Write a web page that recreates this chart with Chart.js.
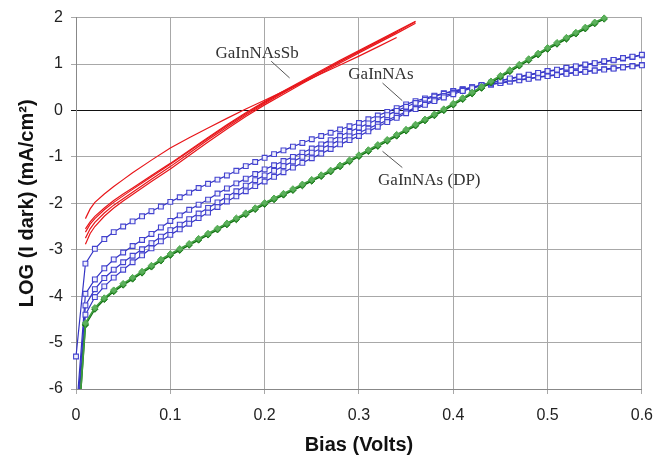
<!DOCTYPE html>
<html>
<head>
<meta charset="utf-8">
<script src="https://cdn.jsdelivr.net/npm/chart.js@4"></script>
<style>
  html, body { margin: 0; padding: 0; background: #fff; }
  #wrap { width: 665px; height: 458px; }
</style>
</head>
<body>
<div id="wrap"><canvas id="chart"></canvas></div>
<script>
// bias points (V) for the marked curves
const bias = [0,0.01,0.02,0.03,0.04,0.05,0.06,0.07,0.08,0.09,0.10,0.11,0.12,0.13,0.14,0.15,0.16,0.17,0.18,0.19,0.20,
  0.21,0.22,0.23,0.24,0.25,0.26,0.27,0.28,0.29,0.30,0.31,0.32,0.33,0.34,0.35,0.36,0.37,0.38,0.39,0.40,
  0.41,0.42,0.43,0.44,0.45,0.46,0.47,0.48,0.49,0.50,0.51,0.52,0.53,0.54,0.55,0.56,0.57,0.58,0.59,0.60];

// GaInNAs (4 devices)
const gaInNAs1 = [-5.3,-3.3,-2.98,-2.77,-2.62,-2.5,-2.39,-2.28,-2.17,-2.07,-1.97,-1.87,-1.77,-1.67,-1.58,-1.49,-1.4,-1.3,-1.2,-1.11,-1.02,
  -0.94,-0.86,-0.78,-0.7,-0.62,-0.55,-0.48,-0.41,-0.34,-0.27,-0.19,-0.11,-0.03,0.05,0.13,0.2,0.26,0.32,0.37,0.42,
  0.46,0.5,0.53,0.56,0.6,0.63,0.66,0.69,0.72,0.75,0.77,0.8,0.82,0.84,0.86,0.89,0.91,0.93,0.96,0.98];
const gaInNAs2 = [-6.6,-3.95,-3.64,-3.4,-3.21,-3.06,-2.92,-2.79,-2.66,-2.52,-2.38,-2.26,-2.14,-2.03,-1.92,-1.79,-1.68,-1.57,-1.47,-1.37,-1.27,
  -1.18,-1.09,-1.0,-0.91,-0.82,-0.73,-0.64,-0.55,-0.46,-0.37,-0.28,-0.19,-0.1,-0.01,0.08,0.16,0.23,0.3,0.36,0.41,
  0.45,0.49,0.53,0.56,0.59,0.62,0.65,0.68,0.71,0.74,0.76,0.79,0.81,0.83,0.86,0.88,0.9,0.93,0.95,0.97];
const gaInNAs3 = [-6.8,-4.2,-3.85,-3.61,-3.43,-3.27,-3.13,-2.99,-2.86,-2.72,-2.58,-2.46,-2.34,-2.22,-2.1,-1.98,-1.86,-1.74,-1.62,-1.5,-1.4,
  -1.3,-1.2,-1.1,-1.0,-0.91,-0.82,-0.73,-0.64,-0.56,-0.48,-0.39,-0.3,-0.21,-0.12,-0.03,0.06,0.15,0.23,0.31,0.38,
  0.44,0.5,0.55,0.6,0.64,0.68,0.72,0.76,0.8,0.84,0.87,0.91,0.94,0.98,1.01,1.05,1.08,1.12,1.15,1.19];
const gaInNAs4 = [-7.0,-4.4,-4.02,-3.79,-3.6,-3.43,-3.27,-3.12,-2.97,-2.82,-2.68,-2.56,-2.44,-2.32,-2.2,-2.08,-1.96,-1.85,-1.74,-1.63,-1.53,
  -1.43,-1.33,-1.23,-1.13,-1.03,-0.93,-0.83,-0.73,-0.64,-0.55,-0.45,-0.35,-0.25,-0.16,-0.06,0.03,0.12,0.2,0.28,0.35,
  0.42,0.48,0.54,0.59,0.64,0.69,0.73,0.77,0.81,0.85,0.88,0.92,0.95,0.99,1.02,1.06,1.09,1.13,1.16,1.2];

// GaInNAs (DP), 0 to 0.56 V
const gaInNAsDP1 = [-7.5,-4.62,-4.28,-4.07,-3.9,-3.76,-3.63,-3.5,-3.37,-3.24,-3.12,-3.01,-2.9,-2.79,-2.68,-2.57,-2.46,-2.35,-2.24,-2.13,-2.02,
  -1.92,-1.82,-1.72,-1.62,-1.52,-1.42,-1.32,-1.21,-1.1,-0.99,-0.88,-0.77,-0.66,-0.55,-0.44,-0.33,-0.22,-0.11,0.0,0.12,
  0.24,0.36,0.48,0.6,0.72,0.84,0.96,1.08,1.2,1.32,1.43,1.54,1.65,1.76,1.87,1.97];
const gaInNAsDP2 = [-7.5,-4.58,-4.25,-4.04,-3.87,-3.73,-3.6,-3.47,-3.34,-3.21,-3.09,-2.98,-2.87,-2.76,-2.65,-2.54,-2.43,-2.32,-2.21,-2.1,-1.99,
  -1.89,-1.79,-1.69,-1.59,-1.49,-1.39,-1.29,-1.18,-1.07,-0.96,-0.85,-0.74,-0.63,-0.52,-0.41,-0.3,-0.19,-0.08,0.03,0.15,
  0.27,0.39,0.51,0.63,0.75,0.87,0.99,1.11,1.23,1.35,1.46,1.57,1.68,1.79,1.9,1.99];

// GaInNAsSb (5 devices, no markers)
const biasSb = [0.01,0.015,0.02,0.03,0.04,0.05,0.06,0.08,0.10,0.12,0.14,0.16,0.18,0.20,0.22,0.24,0.26,0.28,0.30,0.32,0.34,0.36];
const gaInNAsSb1 = [-2.33,-2.12,-1.98,-1.8,-1.64,-1.49,-1.34,-1.07,-0.81,-0.59,-0.38,-0.17,0.03,0.22,0.41,0.6,0.79,0.98,1.17,1.37,1.57];
const gaInNAsSb2 = [-2.88,-2.65,-2.5,-2.28,-2.1,-1.95,-1.81,-1.53,-1.26,-0.97,-0.68,-0.4,-0.13,0.12,0.35,0.58,0.8,1.02,1.24,1.45,1.66,1.88];
const gaInNAsSb3 = [-2.75,-2.55,-2.41,-2.21,-2.04,-1.9,-1.76,-1.48,-1.21,-0.92,-0.63,-0.36,-0.1,0.15,0.38,0.61,0.83,1.05,1.27,1.48,1.69,1.91];
const gaInNAsSb4 = [-2.62,-2.45,-2.33,-2.14,-1.98,-1.84,-1.7,-1.43,-1.16,-0.88,-0.6,-0.33,-0.07,0.17,0.4,0.62,0.84,1.06,1.27,1.48,1.69];
const gaInNAsSb5 = [-2.55,-2.4,-2.28,-2.1,-1.94,-1.8,-1.67,-1.4,-1.14,-0.86,-0.58,-0.31,-0.05,0.19,0.42,0.64,0.86,1.08,1.29,1.5,1.71,1.92];

const yTicks = [-6,-5,-4,-3,-2,-1,0,1,2];
const xTicks = [0,0.1,0.2,0.3,0.4,0.5,0.6];

// curve labels with leader lines (data units)
const notes = [
  { text: 'GaInNAsSb', at: [0.192, 1.23], from: [0.207, 1.06], to: [0.2265, 0.70] },
  { text: 'GaInNAs', at: [0.3233, 0.78], from: [0.325, 0.59], to: [0.346, 0.21] },
  { text: 'GaInNAs (DP)', at: [0.3746, -1.52], from: [0.325, -0.88], to: [0.346, -1.23] }
];

function pts(xs, ys) {
  return ys.map((y, i) => ({ x: xs[i], y: y }));
}

const clipBox = { left: 6, right: 6, top: 6, bottom: 0 };

function redLine(ys) {
  return { data: pts(biasSb, ys), borderColor: '#e8161a', borderWidth: 1.2, pointRadius: 0, clip: clipBox };
}
function blueLine(ys) {
  return {
    data: pts(bias, ys), borderColor: '#3434c4', borderWidth: 1.2,
    pointStyle: 'rect', pointRadius: 3.4, pointBorderWidth: 1.1,
    pointBorderColor: '#4444d0', pointBackgroundColor: '#f0f0fc', clip: clipBox
  };
}
function greenLine(ys, dark) {
  return {
    data: pts(bias, ys), borderColor: dark ? '#0f6e0f' : '#3f9c3f', borderWidth: 1.6,
    pointStyle: 'rectRot', pointRadius: 3.2, pointBorderWidth: 1,
    pointBorderColor: dark ? '#1f7f1f' : '#4faa4f', pointBackgroundColor: dark ? '#127212' : '#5cb05c', clip: clipBox
  };
}

const annotate = {
  id: 'annotate',
  afterDatasetsDraw(chart) {
    const { ctx, scales: { x, y } } = chart;
    ctx.save();
    ctx.font = '17px "Liberation Serif", "Times New Roman", serif';
    ctx.fillStyle = '#333';
    ctx.textAlign = 'center';
    ctx.textBaseline = 'middle';
    ctx.strokeStyle = '#555';
    ctx.lineWidth = 1;
    notes.forEach(n => {
      ctx.fillText(n.text, x.getPixelForValue(n.at[0]), y.getPixelForValue(n.at[1]));
      ctx.beginPath();
      ctx.moveTo(x.getPixelForValue(n.from[0]), y.getPixelForValue(n.from[1]));
      ctx.lineTo(x.getPixelForValue(n.to[0]), y.getPixelForValue(n.to[1]));
      ctx.stroke();
    });
    ctx.restore();
  }
};

new Chart(document.getElementById('chart'), {
  type: 'line',
  data: {
    datasets: [
      redLine(gaInNAsSb1), redLine(gaInNAsSb2), redLine(gaInNAsSb3), redLine(gaInNAsSb4), redLine(gaInNAsSb5),
      greenLine(gaInNAsDP2, false), greenLine(gaInNAsDP1, true),
      blueLine(gaInNAs4), blueLine(gaInNAs3), blueLine(gaInNAs2), blueLine(gaInNAs1)
    ]
  },
  options: {
    responsive: true,
    maintainAspectRatio: false,
    animation: false,
    layout: { padding: { top: 16, right: 22, left: 0, bottom: 0 } },
    plugins: { legend: { display: false }, tooltip: { enabled: false } },
    elements: { line: { tension: 0 } },
    scales: {
      x: {
        type: 'linear', min: 0, max: 0.6,
        afterBuildTicks: s => { s.ticks = xTicks.map(v => ({ value: v })); },
        afterFit: s => { s.height = 69; },
        ticks: {
          color: '#222', padding: 12,
          font: { family: 'Arial, "Liberation Sans", sans-serif', size: 16 },
          callback: v => (v === 0 ? '0' : v.toFixed(1))
        },
        grid: { color: '#a8a8a8', lineWidth: 1, tickLength: 5 },
        border: { color: '#888', width: 1 },
        title: {
          display: true, text: 'Bias (Volts)', color: '#111',
          font: { family: 'Arial, "Liberation Sans", sans-serif', size: 20, weight: 'bold' },
          padding: { top: 0, bottom: 1 }
        }
      },
      y: {
        min: -6, max: 2,
        afterBuildTicks: s => { s.ticks = yTicks.map(v => ({ value: v })); },
        afterFit: s => { s.width = 76; },
        ticks: {
          color: '#222', padding: 8,
          font: { family: 'Arial, "Liberation Sans", sans-serif', size: 16 }
        },
        grid: {
          color: c => (c.tick && c.tick.value === 0 ? '#111' : '#a8a8a8'),
          lineWidth: 1, tickLength: 5
        },
        border: { color: '#888', width: 1 },
        title: {
          display: true, text: 'LOG (I dark) (mA/cm²)', color: '#111',
          font: { family: 'Arial, "Liberation Sans", sans-serif', size: 20, weight: 'bold' },
          padding: { top: 15, bottom: 0 }
        }
      }
    }
  },
  plugins: [annotate]
});
</script>
</body>
</html>
